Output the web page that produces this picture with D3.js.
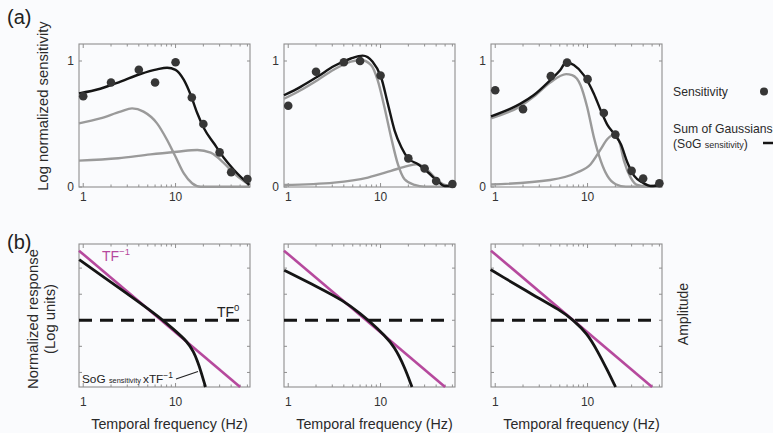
<!DOCTYPE html>
<html><head><meta charset="utf-8">
<script src="https://cdn.jsdelivr.net/npm/d3@7"></script>
<style>body{margin:0;background:#fafbfd}svg{display:block;font-family:"Liberation Sans",Arial,sans-serif}</style>
</head><body><svg id="c" width="773" height="433"></svg>
<script>
// ---------- DATA ----------
const xDomain = [0.9, 64];
const sensDomain = [0, 1.135];
const respDomain = [-0.853, 0.975];
const freqTicks = [1,2,3,4,5,6,7,8,9,10,20,30,40,50,60];
const freqLabels = [1, 10];
const sensTickLabels = [0, 1];
const respTicks = [0.667, 0.333, 0, -0.333, -0.667];

// Panel (a) measured sensitivity points
const dotF1 = [1,2,4,6,10,15,20,30,40,60];
const dotV1 = [0.72,0.83,0.93,0.83,0.99,0.71,0.50,0.275,0.117,0.063];
const dotF2 = [1,2,4,6,10,20,30,40,60];
const dotV2 = [0.645,0.915,0.99,1.0,0.885,0.227,0.147,0.048,0.024];
const dotF3 = [1,2,4,6,10,15,20,30,40,60];
const dotV3 = [0.768,0.618,0.88,0.987,0.856,0.587,0.416,0.128,0.067,0.03];

// Panel (a) Sum of Gaussians (black) and components (gray)
const sogF1 = [0.9,1.53,2.53,4.16,6.3,8.1,10,12.3,14.6,17.2,20.3,26,33.6,43,63];
const sogV1 = [0.743,0.78,0.836,0.897,0.934,0.947,0.93,0.85,0.73,0.585,0.466,0.347,0.228,0.135,0.016];
const gLoF1 = [0.9,1.53,2.53,3.38,4.5,6.3,8.1,10,12.3,15.1,18.8,30,64];
const gLoV1 = [0.505,0.545,0.598,0.624,0.598,0.505,0.373,0.24,0.108,0.03,0.002,0.002,0.002];
const gHiF1 = [0.9,2.4,5.35,10.4,17.2,24,33.6,43,63];
const gHiV1 = [0.209,0.228,0.259,0.28,0.294,0.272,0.188,0.108,0.016];

const sogF2 = [0.9,1.36,2.07,3.14,4.77,6.4,8.2,10.1,12,14.2,16.8,19.8,25.5,32.8,42,49.7,64];
const sogV2 = [0.728,0.795,0.875,0.96,1.02,1.043,0.995,0.875,0.66,0.448,0.315,0.229,0.181,0.115,0.043,0.008,0.008];
const gLoF2 = [0.9,1.36,2.07,3.14,4.77,6.13,7.9,9.3,11,13,15.4,18.2,23.4,30,64];
const gLoV2 = [0.70,0.768,0.848,0.933,0.995,1.008,0.968,0.848,0.635,0.395,0.181,0.061,0.016,0.003,0.003];
const gHiF2 = [0.9,3.14,7.3,13,19.8,24.5,30,38.7,49.7,64];
const gHiV2 = [0.016,0.035,0.075,0.128,0.168,0.181,0.155,0.075,0.016,0.003];

const sogF3 = [0.9,1.45,1.86,2.6,3.94,5.07,5.86,7.1,9.1,11.7,13.9,16.4,19.4,22.9,27,32,39.5,48.5,64];
const sogV3 = [0.56,0.62,0.66,0.728,0.848,0.928,0.99,0.968,0.888,0.741,0.608,0.493,0.421,0.341,0.195,0.088,0.035,0.008,0.02];
const gLoF3 = [0.9,1.86,2.6,3.94,5.86,6.8,8.4,9.9,11.7,13.9,16.4,20.2,26,64];
const gLoV3 = [0.545,0.64,0.715,0.83,0.896,0.888,0.808,0.635,0.395,0.208,0.088,0.022,0.003,0.003];
const gHiF3 = [0.9,3.94,7.7,10.8,13.9,16.4,19.4,21.9,24.8,29.3,34.6,45,64];
const gHiV3 = [0.02,0.056,0.115,0.181,0.30,0.381,0.416,0.368,0.208,0.075,0.016,0.003,0.003];

// Panel (b) log responses
const tfNegF = [0.9, 50];
const tfNegV = [0.89, -0.854];
const tfZeroF = [0.9, 52];
const tfZeroV = [0, 0];
const prodF1 = [0.905,1.53,3.52,6.87,9.6,13.4,15.8,17.2,18.7,21.1];
const prodV1 = [0.774,0.585,0.28,0.03,-0.12,-0.27,-0.41,-0.52,-0.64,-0.853];
const prodF2 = [0.905,2.07,4.04,6.13,7.9,11,14.2,18.2,21.9];
const prodV2 = [0.64,0.426,0.245,0.08,-0.03,-0.19,-0.341,-0.597,-0.853];
const prodF3 = [0.89,1.125,2.6,5.07,7.07,9.9,12.7,16.4,20.1];
const prodV3 = [0.648,0.575,0.32,0.128,0,-0.17,-0.384,-0.639,-0.853];

// ---------- DRAW ----------
const W = 773, H = 433;
const svg = d3.select('#c');
svg.append('rect').attr('width', W).attr('height', H).attr('fill', '#fafbfd');

const lefts = [79, 284, 491], pw = 171;
const aTop = 44, aBot = 187, bTop = 244, bBot = 387;
const ya = d3.scaleLinear().domain(sensDomain).range([aBot, aTop]);
const yb = d3.scaleLinear().domain(respDomain).range([bBot, bTop]);
const frameCol = '#8f8f8f', grayCol = '#9a9a9a', blackCol = '#151515', magCol = '#b6499d';

function frame(x, y, top, bot, yTicks) {
  const g = svg.append('g');
  const l = x.range()[0], r = x.range()[1];
  g.append('rect').attr('x', l).attr('y', top).attr('width', r - l).attr('height', bot - top)
    .attr('fill', 'none').attr('stroke', frameCol).attr('stroke-width', 1.1);
  freqTicks.forEach(f => {
    const len = (f === 1 || f === 10) ? 4 : 2.5;
    g.append('line').attr('x1', x(f)).attr('x2', x(f)).attr('y1', bot).attr('y2', bot - len)
      .attr('stroke', frameCol).attr('stroke-width', 1);
    g.append('line').attr('x1', x(f)).attr('x2', x(f)).attr('y1', top).attr('y2', top + len)
      .attr('stroke', frameCol).attr('stroke-width', 1);
  });
  yTicks.forEach(v => {
    g.append('line').attr('x1', l).attr('x2', l + 3).attr('y1', y(v)).attr('y2', y(v))
      .attr('stroke', frameCol).attr('stroke-width', 1);
    g.append('line').attr('x1', r).attr('x2', r - 3).attr('y1', y(v)).attr('y2', y(v))
      .attr('stroke', frameCol).attr('stroke-width', 1);
  });
  return g;
}

function path(x, y, fs, vs, color, width, dash, curve) {
  const line = d3.line().x(d => x(d[0])).y(d => y(d[1])).curve(curve || d3.curveMonotoneX);
  const p = svg.append('path').datum(d3.zip(fs, vs)).attr('d', line)
    .attr('fill', 'none').attr('stroke', color).attr('stroke-width', width)
    .attr('stroke-linecap', 'butt').attr('stroke-linejoin', 'round');
  if (dash) p.attr('stroke-dasharray', dash);
  return p;
}

const panelsA = [
  {dF: dotF1, dV: dotV1, sF: sogF1, sV: sogV1, lF: gLoF1, lV: gLoV1, hF: gHiF1, hV: gHiV1},
  {dF: dotF2, dV: dotV2, sF: sogF2, sV: sogV2, lF: gLoF2, lV: gLoV2, hF: gHiF2, hV: gHiV2},
  {dF: dotF3, dV: dotV3, sF: sogF3, sV: sogV3, lF: gLoF3, lV: gLoV3, hF: gHiF3, hV: gHiV3}
];
const panelsB = [
  {pF: prodF1, pV: prodV1},
  {pF: prodF2, pV: prodV2},
  {pF: prodF3, pV: prodV3}
];

panelsA.forEach((p, i) => {
  const x = d3.scaleLog().domain(xDomain).range([lefts[i], lefts[i] + pw]);
  frame(x, ya, aTop, aBot, sensTickLabels);
  path(x, ya, p.lF, p.lV, grayCol, 2.4);
  path(x, ya, p.hF, p.hV, grayCol, 2.4);
  path(x, ya, p.sF, p.sV, blackCol, 2.4);
  svg.append('g').selectAll('circle').data(d3.zip(p.dF, p.dV)).join('circle')
    .attr('cx', d => x(d[0])).attr('cy', d => ya(d[1])).attr('r', 4.3).attr('fill', '#363636');
  freqLabels.forEach(f => {
    svg.append('text').attr('x', x(f)).attr('y', 201).attr('text-anchor', 'middle')
      .attr('font-size', 12).attr('fill', '#333').text(f);
  });
  sensTickLabels.forEach(v => {
    svg.append('text').attr('x', lefts[i] - 5).attr('y', ya(v) + 4.3).attr('text-anchor', 'end')
      .attr('font-size', 12).attr('fill', '#333').text(v);
  });
});

panelsB.forEach((p, i) => {
  const x = d3.scaleLog().domain(xDomain).range([lefts[i], lefts[i] + pw]);
  frame(x, yb, bTop, bBot, respTicks);
  path(x, yb, tfZeroF, tfZeroV, blackCol, 3, '13,8');
  path(x, yb, tfNegF, tfNegV, magCol, 2.6);
  path(x, yb, p.pF, p.pV, blackCol, 2.8, null, d3.curveBasis);
  freqLabels.forEach(f => {
    svg.append('text').attr('x', x(f)).attr('y', 406).attr('text-anchor', 'middle')
      .attr('font-size', 12).attr('fill', '#333').text(f);
  });
  svg.append('text').attr('x', lefts[i] + pw / 2 + 5).attr('y', 428.5).attr('text-anchor', 'middle')
    .attr('font-size', 14.3).attr('fill', '#2a2a2a').text('Temporal frequency (Hz)');
});

// Panel labels
svg.append('text').attr('x', 7).attr('y', 24).attr('font-size', 20).attr('fill', '#222').text('(a)');
svg.append('text').attr('x', 7).attr('y', 249).attr('font-size', 20).attr('fill', '#222').text('(b)');

// Axis titles
svg.append('text').attr('transform', 'translate(48,106) rotate(-90)').attr('text-anchor', 'middle')
  .attr('font-size', 14.8).attr('fill', '#2a2a2a').text('Log normalized sensitivity');
svg.append('text').attr('transform', 'translate(38,319) rotate(-90)').attr('text-anchor', 'middle')
  .attr('font-size', 14.8).attr('fill', '#2a2a2a').text('Normalized response');
svg.append('text').attr('transform', 'translate(55,319) rotate(-90)').attr('text-anchor', 'middle')
  .attr('font-size', 14.8).attr('fill', '#2a2a2a').text('(Log units)');
svg.append('text').attr('transform', 'translate(688,314) rotate(-90)').attr('text-anchor', 'middle')
  .attr('font-size', 14).attr('fill', '#2a2a2a').text('Amplitude');

// Legend
svg.append('text').attr('x', 673).attr('y', 96).attr('font-size', 12.2).attr('fill', '#2a2a2a').text('Sensitivity');
svg.append('circle').attr('cx', 764).attr('cy', 91.5).attr('r', 4).attr('fill', '#363636');
svg.append('text').attr('x', 673).attr('y', 133).attr('font-size', 12.2).attr('fill', '#2a2a2a').text('Sum of Gaussians');
const lg = svg.append('text').attr('x', 673).attr('y', 147.5).attr('font-size', 12.2).attr('fill', '#2a2a2a');
lg.append('tspan').text('(SoG ');
lg.append('tspan').attr('font-size', 9).text('sensitivity');
lg.append('tspan').text(')');
svg.append('line').attr('x1', 763).attr('x2', 773).attr('y1', 143).attr('y2', 143)
  .attr('stroke', blackCol).attr('stroke-width', 2.5);

// Panel (b) annotations
const t1 = svg.append('text').attr('x', 102).attr('y', 261).attr('font-size', 14).attr('fill', magCol);
t1.append('tspan').text('TF');
t1.append('tspan').attr('font-size', 9.5).attr('dy', -6).text('\u22121');
const t0 = svg.append('text').attr('x', 217).attr('y', 317).attr('font-size', 14).attr('fill', '#222');
t0.append('tspan').text('TF');
t0.append('tspan').attr('font-size', 9.5).attr('dy', -6).text('0');
const ts = svg.append('text').attr('x', 82).attr('y', 383).attr('font-size', 11.8).attr('fill', '#222');
ts.append('tspan').text('SoG ');
ts.append('tspan').attr('font-size', 7.4).text('sensitivity ');
ts.append('tspan').text('xTF');
ts.append('tspan').attr('font-size', 8.5).attr('dy', -5).text('\u22121');
svg.append('line').attr('x1', 176).attr('y1', 379).attr('x2', 198).attr('y2', 371.5)
  .attr('stroke', '#222').attr('stroke-width', 1.3);
</script></body></html>
